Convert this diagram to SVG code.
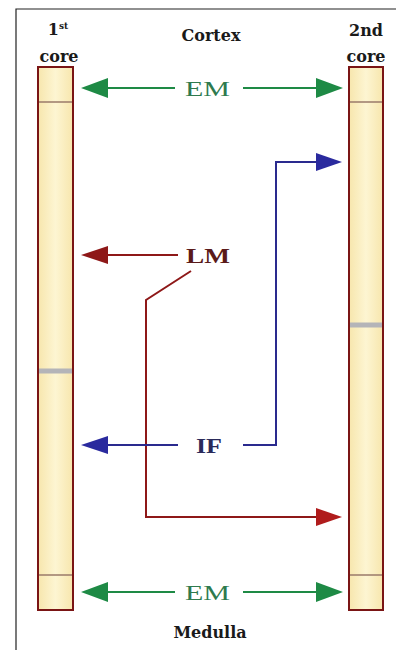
<svg xmlns="http://www.w3.org/2000/svg" width="396" height="650" viewBox="0 0 396 650">
<defs>
<linearGradient id="coreFill" x1="0" y1="0" x2="1" y2="0">
<stop offset="0" stop-color="#f7e6ad"/>
<stop offset="0.5" stop-color="#fdf5d2"/>
<stop offset="1" stop-color="#f7e6ad"/>
</linearGradient>
</defs>
<style>
.core{fill:url(#coreFill);stroke:#7a1515;stroke-width:2}
.div{stroke:#9a7a6a;stroke-width:1.5}
.gray{stroke:#b4b4b8;stroke-width:5}
.lbl{font-family:"DejaVu Serif","Liberation Serif",serif;font-weight:bold;font-size:16px;fill:#1a1a1a;text-anchor:middle}
.arr{font-family:"Liberation Serif",serif;font-size:20px}
.g{stroke:#1e8a45;stroke-width:2;fill:none}
.r{stroke:#8e1818;stroke-width:2;fill:none}
.b{stroke:#2a2a8e;stroke-width:2;fill:none}
</style>
<rect width="396" height="650" fill="#ffffff"/>
<path d="M16,650 V9 H396" fill="none" stroke="#222" stroke-width="1.2"/>
<g id="core1">
<rect class="core" x="38" y="67" width="35" height="543"/>
<line class="div" x1="39" y1="102" x2="72" y2="102"/>
<line class="gray" x1="39" y1="371" x2="72" y2="371"/>
<line class="div" x1="39" y1="575" x2="72" y2="575"/>
<text class="lbl" x="58" y="35">1<tspan font-size="9" dy="-6">st</tspan></text>
<text class="lbl" x="59" y="62">core</text>
</g>
<g id="core2">
<rect class="core" x="349" y="67" width="34" height="543"/>
<line class="div" x1="350" y1="102" x2="382" y2="102"/>
<line class="gray" x1="350" y1="325" x2="382" y2="325"/>
<line class="div" x1="350" y1="575" x2="382" y2="575"/>
<text class="lbl" x="366" y="36">2nd</text>
<text class="lbl" x="366" y="62">core</text>
</g>
<g id="cortex"><text class="lbl" x="211" y="41" font-size="17">Cortex</text></g>
<g id="medulla"><text class="lbl" x="210" y="638" font-size="17">Medulla</text></g>
<g id="connectors">
<path class="g" d="M175,88 H105"/>
<path d="M81,88 L108,78 L108,98 Z" fill="#1e8a45"/>
<path class="g" d="M243,88 H318"/>
<path d="M343,88 L316,78 L316,98 Z" fill="#1e8a45"/>
<path class="g" d="M175,592 H105"/>
<path d="M81,592 L108,582 L108,602 Z" fill="#1e8a45"/>
<path class="g" d="M243,592 H318"/>
<path d="M343,592 L316,582 L316,602 Z" fill="#1e8a45"/>
<path class="r" d="M178,255 H105"/>
<path d="M81,255 L108,246 L108,264 Z" fill="#8e1818"/>
<path class="r" d="M191,271 L146,300 V517 H318"/>
<path d="M342,517 L316,508 L316,526 Z" fill="#b01c1c"/>
<path class="b" d="M178,445 H105"/>
<path d="M81,445 L108,436 L108,454 Z" fill="#2a2a9e"/>
<path class="b" d="M243,445 H276 V162 H318"/>
<path d="M342,162 L316,153 L316,171 Z" fill="#2a2a9e"/>
</g>
<g id="em-top"><text class="arr" x="185" y="96" fill="#2e7a4e" textLength="45" lengthAdjust="spacingAndGlyphs">EM</text></g>
<g id="lm"><text class="arr" x="186" y="263" fill="#5a1a1a" font-weight="bold" font-size="19" textLength="44" lengthAdjust="spacingAndGlyphs">LM</text></g>
<g id="if"><text class="arr" x="196" y="453" fill="#2a2a5a" font-weight="bold" font-size="19" textLength="26" lengthAdjust="spacingAndGlyphs">IF</text></g>
<g id="em-bottom"><text class="arr" x="185" y="600" fill="#2e7a4e" textLength="45" lengthAdjust="spacingAndGlyphs">EM</text></g>
</svg>
